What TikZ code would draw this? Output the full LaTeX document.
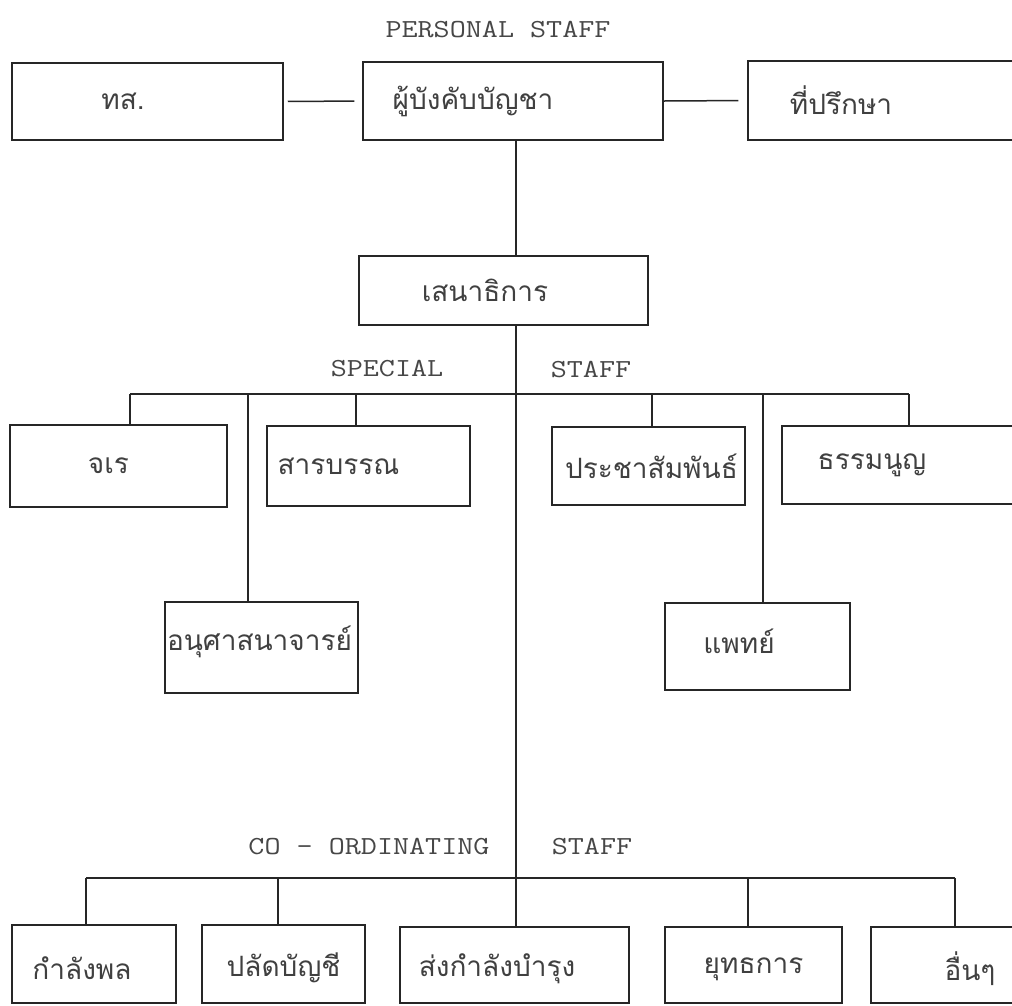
\documentclass[tikz,border=0pt]{standalone}
\usepackage{fontspec}
\newfontfamily\thai[Script=Thai]{Loma}
\newcommand{\tw}[1]{\scalebox{1.2}[1]{#1}}
\begin{document}
\begin{tikzpicture}[x=1pt,y=-1pt,
  box/.style={draw=black!85, line width=1.5pt, inner sep=0pt},
  conn/.style={draw=black!85, line width=1.5pt},
  th/.style={font=\thai\fontsize{28}{32}\selectfont, text=black!75, inner sep=0pt},
  en/.style={font=\ttfamily\fontsize{26}{30}\selectfont, text=black!72, inner sep=0pt}]
\useasboundingbox[fill=white] (0,0) rectangle (1012,1005);

% top row
\node[box, minimum width=271pt, minimum height=77pt, label={[th,xshift=-24.5pt]center:ทส.}] (tos) at (147.5,101.5) {};
\node[box, minimum width=300pt, minimum height=78pt, label={[th,xshift=-40pt]center:ผู้บังคับบัญชา}] (cmd) at (513,101) {};
\node[box, minimum width=282pt, minimum height=79pt, label={[th,xshift=-48pt]center:ที่ปรึกษา}] (adv) at (889,100.5) {};
\node[en] (ps) at (498,30) {\tw{PERSONAL STAFF}};

% chief of staff
\node[box, minimum width=289pt, minimum height=69pt, label={[th,xshift=-18.5pt]center:เสนาธิการ}] (cos) at (503.5,290.5) {};

% special staff
\node[box, minimum width=217pt, minimum height=82pt, label={[th,xshift=-10pt]center:จเร}] (insp) at (118.5,466) {};
\node[box, minimum width=203pt, minimum height=80pt, label={[th,xshift=-30pt]center:สารบรรณ}] (adj) at (368.5,466) {};
\node[box, minimum width=193pt, minimum height=78pt, label={[th,xshift=3pt]center:ประชาสัมพันธ์}] (pr) at (648.5,466) {};
\node[box, minimum width=248pt, minimum height=78pt, label={[th,xshift=-34pt]center:ธรรมนูญ}] (law) at (906,465) {};
\node[box, minimum width=193pt, minimum height=91pt, label={[th,xshift=-2pt,yshift=6pt]center:อนุศาสนาจารย์}] (chap) at (261.5,647.5) {};
\node[box, minimum width=185pt, minimum height=87pt, label={[th,xshift=-18.5pt,yshift=5pt]center:แพทย์}] (med) at (757.5,646.5) {};
\node[en] (sp1) at (387,369) {\tw{SPECIAL}};
\node[en] (sp2) at (591,370) {\tw{STAFF}};

% coordinating staff
\node[box, minimum width=164pt, minimum height=78pt, label={[th,xshift=-12pt,yshift=-4pt]center:กำลังพล}] (pers) at (94,964) {};
\node[box, minimum width=163pt, minimum height=78pt, label={[th,xshift=0pt,yshift=-4pt]center:ปลัดบัญชี}] (fin) at (283.5,964) {};
\node[box, minimum width=229pt, minimum height=76pt, label={[th,xshift=-17.5pt,yshift=-4pt]center:ส่งกำลังบำรุง}] (logi) at (514.5,965) {};
\node[box, minimum width=177pt, minimum height=76pt, label={[th,yshift=-4pt]center:ยุทธการ}] (ops) at (753.5,965) {};
\node[box, minimum width=159pt, minimum height=76pt, label={[th,xshift=19.5pt,yshift=-4pt]center:อื่นๆ}] (oth) at (950.5,965) {};
\node[en] (co1) at (369,847) {\tw{CO - ORDINATING}};
\node[en] (co2) at (592,847) {\tw{STAFF}};

% trunk and buses
\coordinate (t) at (516,0);
\coordinate (d1) at (130,394);
\coordinate (d2) at (248,394);
\coordinate (d3) at (356,394);
\coordinate (d4) at (652,394);
\coordinate (d5) at (763,394);
\coordinate (d6) at (909,394);
\coordinate (c1) at (86,878);
\coordinate (c2) at (278,878);
\coordinate (c4) at (748,878);
\coordinate (c5) at (955,878);

\draw[conn, shorten >=8pt, shorten <=4pt] (tos.east) -- (cmd.west);
\draw[conn, shorten >=9pt] (cmd.east) -- (adv.west);
\draw[conn] (cmd.south -| t) -- (cos.north -| t);
\draw[conn] (cos.south -| t) -- (logi.north -| t);

\draw[conn] (d1) -- (d6);
\draw[conn] (d1) -- (d1 |- insp.north);
\draw[conn] (d2) -- (d2 |- chap.north);
\draw[conn] (d3) -- (d3 |- adj.north);
\draw[conn] (d4) -- (d4 |- pr.north);
\draw[conn] (d5) -- (d5 |- med.north);
\draw[conn] (d6) -- (d6 |- law.north);

\draw[conn] (c1) -- (c5);
\draw[conn] (c1) -- (c1 |- pers.north);
\draw[conn] (c2) -- (c2 |- fin.north);
\draw[conn] (c4) -- (c4 |- ops.north);
\draw[conn] (c5) -- (c5 |- oth.north);
\end{tikzpicture}
\end{document}
